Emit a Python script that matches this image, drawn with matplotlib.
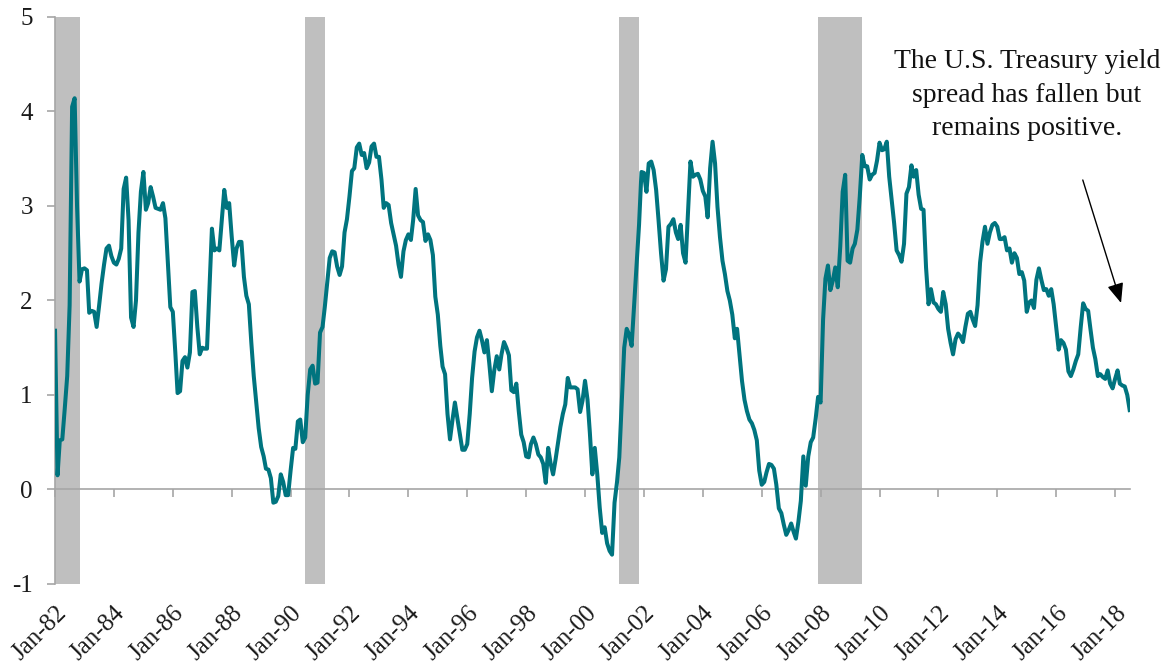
import matplotlib
matplotlib.use('Agg')
import matplotlib.pyplot as plt
import matplotlib.dates as mdates
import pandas as pd

# monthly yield spread, Jan-82 .. Jul-18
spread_1980s = [1.68, 0.15, 0.52, 0.53, 0.85, 1.20, 1.95, 4.05, 4.14, 3.00, 2.20, 2.33,
                2.34, 2.32, 1.87, 1.89, 1.88, 1.72, 1.94, 2.18, 2.38, 2.55, 2.58, 2.47,
                2.40, 2.38, 2.44, 2.55, 3.18, 3.30, 2.85, 1.82, 1.72, 2.00, 2.72, 3.15,
                3.36, 2.96, 3.03, 3.20, 3.10, 2.98, 2.97, 2.96, 3.03, 2.87, 2.39, 1.93,
                1.88, 1.45, 1.02, 1.04, 1.36, 1.40, 1.29, 1.45, 2.09, 2.10, 1.72, 1.43,
                1.50, 1.49, 1.49, 2.14, 2.76, 2.53, 2.55, 2.53, 2.85, 3.17, 2.98, 3.03,
                2.68, 2.37, 2.55, 2.62, 2.62, 2.25, 2.05, 1.96, 1.55, 1.20, 0.92, 0.65,
                0.45, 0.35, 0.22, 0.21, 0.12, -0.14, -0.13, -0.07, 0.16, 0.08, -0.06, -0.06]
spread_1990s = [0.20, 0.44, 0.43, 0.72, 0.74, 0.50, 0.55, 1.00, 1.27, 1.31, 1.12, 1.13,
                1.66, 1.72, 1.93, 2.20, 2.45, 2.52, 2.51, 2.36, 2.27, 2.36, 2.72, 2.86,
                3.10, 3.37, 3.40, 3.62, 3.66, 3.54, 3.56, 3.40, 3.46, 3.63, 3.66, 3.52,
                3.52, 3.28, 2.98, 3.03, 3.01, 2.82, 2.70, 2.58, 2.38, 2.25, 2.52, 2.64,
                2.70, 2.64, 2.85, 3.18, 2.90, 2.85, 2.83, 2.63, 2.70, 2.64, 2.48, 2.04,
                1.85, 1.52, 1.30, 1.22, 0.80, 0.53, 0.73, 0.92, 0.75, 0.58, 0.42, 0.42,
                0.48, 0.80, 1.18, 1.46, 1.61, 1.68, 1.58, 1.45, 1.58, 1.33, 1.04, 1.26,
                1.41, 1.27, 1.43, 1.56, 1.50, 1.42, 1.05, 1.03, 1.12, 0.83, 0.58, 0.50,
                0.35, 0.34, 0.48, 0.55, 0.48, 0.37, 0.34, 0.27, 0.07, 0.44, 0.27, 0.16,
                0.32, 0.50, 0.66, 0.80, 0.90, 1.18, 1.08, 1.08, 1.08, 1.06, 0.82, 0.94]
spread_2000s = [1.15, 0.95, 0.60, 0.16, 0.44, 0.16, -0.19, -0.46, -0.40, -0.57, -0.65, -0.69,
                -0.14, 0.08, 0.34, 0.94, 1.50, 1.70, 1.64, 1.52, 1.95, 2.35, 2.80, 3.36,
                3.35, 3.15, 3.45, 3.47, 3.38, 3.17, 2.85, 2.50, 2.21, 2.33, 2.78, 2.81,
                2.86, 2.72, 2.65, 2.80, 2.50, 2.40, 2.92, 3.47, 3.31, 3.33, 3.34, 3.28,
                3.16, 3.10, 2.88, 3.40, 3.68, 3.45, 2.99, 2.67, 2.42, 2.28, 2.10, 2.00,
                1.85, 1.60, 1.70, 1.42, 1.15, 0.95, 0.83, 0.74, 0.70, 0.63, 0.52, 0.20,
                0.05, 0.08, 0.18, 0.27, 0.26, 0.22, 0.05, -0.20, -0.25, -0.37, -0.48, -0.43,
                -0.36, -0.45, -0.52, -0.34, -0.12, 0.35, 0.04, 0.35, 0.50, 0.55, 0.75, 0.98,
                0.92, 1.80, 2.23, 2.37, 2.11, 2.21, 2.35, 2.14, 2.57, 3.15, 3.33, 2.42,
                2.40, 2.55, 2.60, 2.75, 3.10, 3.54, 3.42, 3.42, 3.28, 3.33, 3.35, 3.48]
spread_2010s = [3.67, 3.59, 3.60, 3.68, 3.31, 3.06, 2.82, 2.53, 2.48, 2.41, 2.60, 3.13,
                3.20, 3.43, 3.31, 3.38, 3.12, 2.97, 2.96, 2.35, 1.96, 2.12, 1.98, 1.96,
                1.91, 1.88, 2.09, 1.96, 1.70, 1.55, 1.43, 1.59, 1.65, 1.62, 1.56, 1.72,
                1.86, 1.88, 1.80, 1.73, 1.95, 2.40, 2.62, 2.78, 2.60, 2.72, 2.80, 2.82,
                2.78, 2.65, 2.65, 2.67, 2.53, 2.55, 2.40, 2.50, 2.45, 2.28, 2.30, 2.21,
                1.88, 1.98, 2.00, 1.92, 2.22, 2.34, 2.22, 2.11, 2.12, 2.05, 2.12, 1.96,
                1.72, 1.48, 1.58, 1.55, 1.48, 1.25, 1.20, 1.27, 1.36, 1.43, 1.72, 1.97,
                1.91, 1.89, 1.70, 1.50, 1.38, 1.20, 1.22, 1.19, 1.17, 1.26, 1.12, 1.07,
                1.17, 1.26, 1.12, 1.10, 1.09, 1.00, 0.84]

recession_start = ['1982-01-01', '1990-07-01', '2001-03-01', '2007-12-01']
recession_end = ['1982-11-01', '1991-03-01', '2001-11-01', '2009-06-01']

tick_years = list(range(1982, 2019, 2))
tick_labels = ['Jan-%02d' % (y % 100) for y in tick_years]
y_ticks = [-1, 0, 1, 2, 3, 4, 5]

note = 'The U.S. Treasury yield\nspread has fallen but\nremains positive.'

spread = spread_1980s + spread_1990s + spread_2000s + spread_2010s
dates = pd.date_range('1982-01-01', periods=len(spread), freq='MS')

plt.rcParams['font.family'] = ['Liberation Serif', 'DejaVu Serif']
plt.rcParams['axes.unicode_minus'] = False

grey = '#a6a6a6'
teal = '#00747f'

fig = plt.figure(figsize=(11.66, 6.71), dpi=100)
ax = fig.add_axes([0.0472, 0.1297, 0.922, 0.845])

for s, e in zip(recession_start, recession_end):
    ax.axvspan(pd.Timestamp(s), pd.Timestamp(e), color='#bfbfbf', lw=0, zorder=1)

ax.plot(dates, spread, color=teal, lw=2.9, zorder=3, solid_joinstyle='round')

ax.set_ylim(-1, 5)
ax.set_xlim(pd.Timestamp('1982-01-01'), dates[-1] + pd.Timedelta(days=5))

for side in ['top', 'right']:
    ax.spines[side].set_visible(False)
ax.spines['left'].set_color(grey)
ax.spines['left'].set_linewidth(1.2)
ax.spines['bottom'].set_position(('data', 0))
ax.spines['bottom'].set_color(grey)
ax.spines['bottom'].set_linewidth(1.2)

tick_pos = mdates.date2num([pd.Timestamp('%d-01-01' % y) for y in tick_years])
ax.set_xticks(tick_pos)
ax.tick_params(axis='x', direction='out', length=6, width=1.2, color=grey, labelbottom=False)

ax.set_yticks(y_ticks)
ax.set_yticklabels([str(v) for v in y_ticks])
ax.tick_params(axis='y', direction='out', length=6, width=1.2, color=grey,
               pad=10, labelsize=18, labelcolor='#1a1a1a')

# date labels sit under the plot, not on the zero line
sec = ax.secondary_xaxis('bottom')
sec.set_xticks(tick_pos)
sec.set_xticklabels(tick_labels)
sec.spines['bottom'].set_visible(False)
sec.tick_params(length=0, pad=13, labelsize=18, labelcolor='#1a1a1a')
for lab in sec.get_xticklabels():
    lab.set_rotation(45)
    lab.set_ha('right')
    lab.set_rotation_mode('anchor')

ax.text(0.904, 0.862, note, transform=ax.transAxes, ha='center', va='center',
        fontsize=20, linespacing=1.45, color='#111111')
ax.annotate('', xy=(0.9916, 0.4956), xytext=(0.956, 0.7125),
            xycoords='axes fraction', textcoords='axes fraction',
            arrowprops=dict(arrowstyle='-|>,head_length=0.6,head_width=0.25',
                            color='black', lw=1, mutation_scale=20,
                            shrinkA=0, shrinkB=0))

fig.savefig('out.png', dpi=100)
